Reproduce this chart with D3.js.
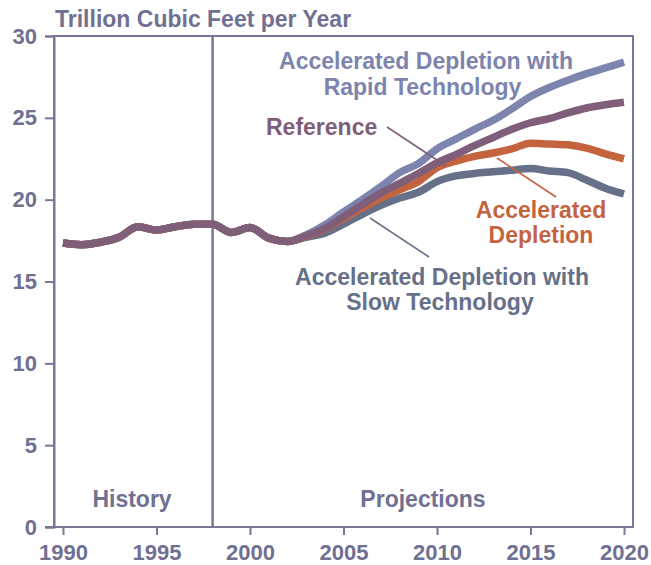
<!DOCTYPE html>
<html>
<head>
<meta charset="utf-8">
<script src="https://cdn.jsdelivr.net/npm/d3@7"></script>
<style>
  html, body { margin: 0; padding: 0; background: #fff; }
  svg { display: block; font-family: "Liberation Sans", Arial, Helvetica, sans-serif; font-weight: bold; }
</style>
</head>
<body>
<svg id="chart" width="651" height="565"></svg>
<script>
// ---- Data ----
const years = d3.range(1990, 2021);
const history = [17.35, 17.25, 17.4, 17.7, 18.35, 18.15, 18.35, 18.5, 18.5, 18.0, 18.3, 17.65, 17.45];
const rapidProj = [17.85, 18.45, 19.25, 20.0, 20.8, 21.65, 22.2, 23.1, 23.7, 24.3, 24.85, 25.55, 26.3, 26.85, 27.3, 27.7, 28.05, 28.4];
const referenceProj = [17.8, 18.25, 18.95, 19.7, 20.4, 21.0, 21.6, 22.25, 22.75, 23.3, 23.8, 24.3, 24.7, 24.95, 25.3, 25.6, 25.8, 25.95];
const accelProj = [17.75, 18.2, 18.85, 19.5, 20.1, 20.6, 21.1, 21.95, 22.35, 22.65, 22.85, 23.1, 23.45, 23.4, 23.35, 23.15, 22.8, 22.5];
const slowProj = [17.7, 17.95, 18.5, 19.1, 19.65, 20.1, 20.45, 21.1, 21.45, 21.6, 21.7, 21.8, 21.9, 21.75, 21.65, 21.2, 20.7, 20.35];
const xTicks = [1990, 1995, 2000, 2005, 2010, 2015, 2020];
const yTicks = [0, 5, 10, 15, 20, 25, 30];
const unitLabel = "Trillion Cubic Feet per Year";
const divideYear = 1998;

const series = [
  { name: "rapid", values: history.concat(rapidProj), color: "#7d84ad" },
  { name: "slow", values: history.concat(slowProj), color: "#667088" },
  { name: "accel", values: history.concat(accelProj), color: "#c4643f" },
  { name: "reference", values: history.concat(referenceProj), color: "#7f5e7a" }
];

const axisColor = "#777896";
const textColor = "#6f7092";
const fs = "23px";

// ---- Layout ----
const svg = d3.select("#chart");
const pL = 54, pR = 633, pT = 36, pB = 527;
const x = d3.scaleLinear().domain([1990, 2020]).range([63, 624]);
const y = d3.scaleLinear().domain([0, 30]).range([pB, pT]);

// Frame
svg.append("rect")
  .attr("x", pL).attr("y", pT)
  .attr("width", pR - pL).attr("height", pB - pT)
  .attr("fill", "none").attr("stroke", axisColor).attr("stroke-width", 2);

// Y axis
const yAxis = svg.append("g")
  .attr("transform", `translate(${pL},0)`)
  .call(d3.axisLeft(y).tickValues(yTicks).tickSize(9).tickPadding(8).tickFormat(d3.format("d")));
yAxis.select(".domain").attr("stroke", axisColor).attr("stroke-width", 2);
yAxis.selectAll(".tick line").attr("stroke", axisColor).attr("stroke-width", 2);
yAxis.selectAll(".tick text")
  .attr("fill", textColor).style("font-size", "22px").style("font-weight", "bold");
yAxis.attr("font-family", null).attr("font-size", null);

// X axis
const xAxis = svg.append("g")
  .attr("transform", `translate(0,${pB})`)
  .call(d3.axisBottom(x).tickValues(xTicks).tickSize(8).tickPadding(9).tickFormat(d3.format("d")));
xAxis.select(".domain").remove();
xAxis.append("line").attr("x1", pL - 9).attr("x2", pR).attr("y1", 0).attr("y2", 0)
  .attr("stroke", axisColor).attr("stroke-width", 2);
xAxis.selectAll(".tick line").attr("stroke", axisColor).attr("stroke-width", 2);
xAxis.selectAll(".tick text")
  .attr("fill", textColor).style("font-size", "22px").style("font-weight", "bold");
xAxis.attr("font-family", null).attr("font-size", null);

// Divider
svg.append("line")
  .attr("x1", x(divideYear)).attr("x2", x(divideYear))
  .attr("y1", pT).attr("y2", pB)
  .attr("stroke", axisColor).attr("stroke-width", 2.5);

// Unit label
svg.append("text").attr("x", 55).attr("y", 27)
  .attr("fill", textColor).style("font-size", fs).text(unitLabel);

// Lines
const line = d3.line()
  .x((d, i) => x(years[i]))
  .y(d => y(d))
  .curve(d3.curveMonotoneX);

svg.append("g").selectAll("path").data(series).join("path")
  .attr("d", d => line(d.values))
  .attr("fill", "none")
  .attr("stroke", d => d.color)
  .attr("stroke-width", 7.5)
  .attr("stroke-linejoin", "round")
  .attr("stroke-linecap", "butt");

// Region labels
svg.append("text").attr("x", 132).attr("y", 507).attr("text-anchor", "middle")
  .attr("fill", textColor).style("font-size", fs).text("History");
svg.append("text").attr("x", 423).attr("y", 507).attr("text-anchor", "middle")
  .attr("fill", textColor).style("font-size", fs).text("Projections");

// Annotations
function label(lines, cx, baseline, color, anchor) {
  const t = svg.append("text").attr("fill", color).style("font-size", fs)
    .attr("text-anchor", anchor || "middle");
  lines.forEach((s, i) => {
    t.append("tspan").attr("x", cx[i]).attr("y", baseline[i]).text(s);
  });
}
function leader(x1, y1, x2, y2, color) {
  svg.append("line").attr("x1", x1).attr("y1", y1).attr("x2", x2).attr("y2", y2)
    .attr("stroke", color).attr("stroke-width", 1.6);
}

label(["Accelerated Depletion with", "Rapid Technology"], [426, 422.5], [69, 95], "#7d84ad");
label(["Reference"], [266], [135], "#7f5e7a", "start");
leader(387, 127, 446, 166, "#7f5e7a");
label(["Accelerated", "Depletion"], [541, 541], [218, 243], "#c4643f");
leader(497, 158, 556, 197, "#c4643f");
label(["Accelerated Depletion with", "Slow Technology"], [442, 440], [285, 310], "#667088");
leader(370, 218, 429, 257, "#667088");
</script>
</body>
</html>
